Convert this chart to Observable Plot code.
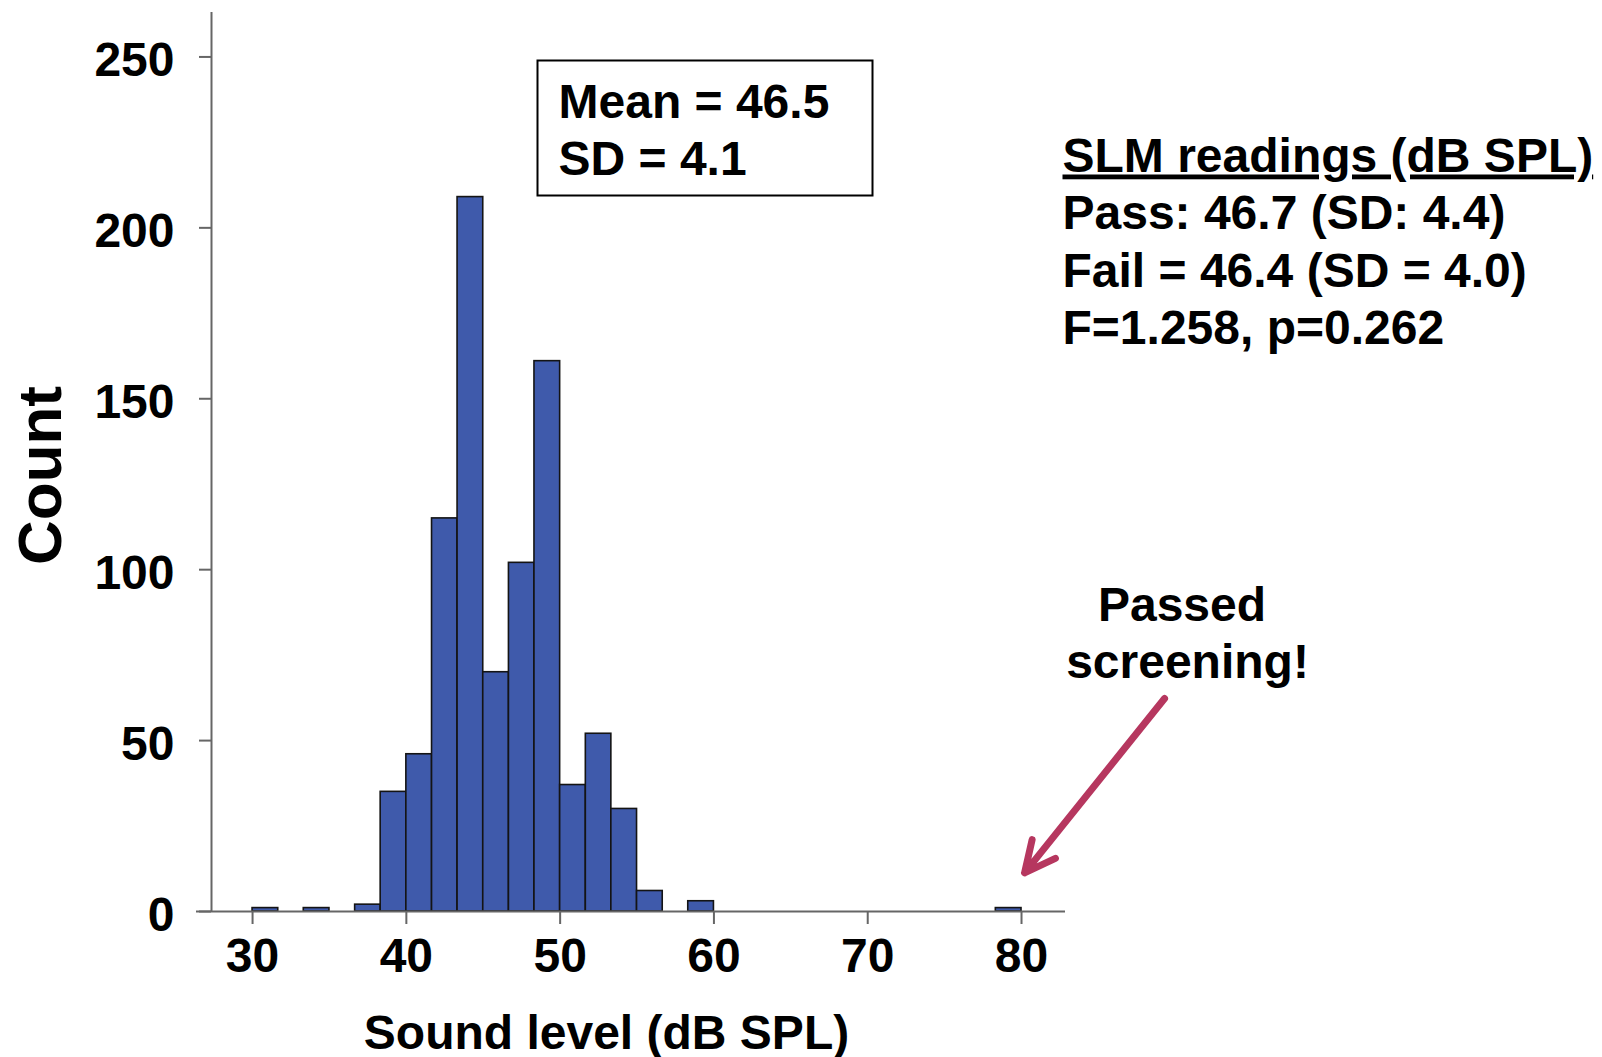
<!DOCTYPE html>
<html>
<head>
<meta charset="utf-8">
<script src="https://cdn.jsdelivr.net/npm/d3@7"></script>
<script src="https://cdn.jsdelivr.net/npm/@observablehq/plot@0.6"></script>
<style>
  html, body { margin: 0; padding: 0; background: #fff; overflow: hidden; }
  #chart svg { display: block; }
</style>
</head>
<body>
<div id="chart"></div>
<script>
// ---- data ----
const binStart = [30, 33.33, 36.67, 38.33, 40, 41.67, 43.33, 45, 46.67, 48.33, 50, 51.67, 53.33, 55, 58.33, 78.33];
const binEnd   = [31.67, 35, 38.33, 40, 41.67, 43.33, 45, 46.67, 48.33, 50, 51.67, 53.33, 55, 56.67, 60, 80];
const counts   = [1, 1, 2, 35, 46, 115, 209, 70, 102, 161, 37, 52, 30, 6, 3, 1];

const xTicks = [30, 40, 50, 60, 70, 80];
const yTicks = [0, 50, 100, 150, 200, 250];
const xDomain = [27.33, 82.86];
const yDomain = [0, 263];

const xLabel = "Sound level (dB SPL)";
const yLabel = "Count";
const statsBox = ["Mean = 46.5", "SD = 4.1"];
const slmTitle = "SLM readings (dB SPL)";
const slmLines = ["Pass: 46.7 (SD: 4.4)", "Fail = 46.4 (SD = 4.0)", "F=1.258, p=0.262"];
const calloutLines = ["Passed", "screening!"];
const arrowData = [{x1: 89.3, y1: 62.3, x2: 80.2, y2: 11.3}];

// ---- build ----
const bars = binStart.map((s, i) => ({lo: s, hi: binEnd[i], count: counts[i]}));

const FONT = "'Liberation Sans', Arial, Helvetica, sans-serif";
const FS = 48;
const AXIS = "#666";
const W = 1602, H = 1057;
const mL = 211, mR = 537, mT = 12, mB = 146;

const txt = (s, o) => Plot.text([s], {
  text: d => d, frameAnchor: "top-left", fontFamily: FONT, fontSize: FS,
  fontWeight: "bold", fill: "black", lineAnchor: "bottom", textAnchor: "start", ...o
});

const plot = Plot.plot({
  width: W, height: H,
  marginLeft: mL, marginRight: mR, marginTop: mT, marginBottom: mB,
  style: {fontFamily: FONT, background: "white", color: "black", overflow: "visible"},
  x: {domain: xDomain, label: null},
  y: {domain: yDomain, label: null},
  marks: [
    Plot.rectY(bars, {x1: "lo", x2: "hi", y: "count", fill: "#3f5aab", stroke: "#141414", strokeWidth: 1.6}),
    Plot.ruleY([0], {stroke: AXIS, strokeWidth: 2, insetLeft: -15}),
    Plot.ruleX([xDomain[0]], {stroke: AXIS, strokeWidth: 2}),
    Plot.axisY({ticks: yTicks, tickSize: 12, fill: "none", stroke: AXIS, strokeWidth: 2, label: null}),
    Plot.axisY({ticks: yTicks, tickSize: 0, tickPadding: 37, dy: 4, stroke: "none", fill: "black",
      fontSize: FS, fontWeight: "bold", fontFamily: FONT, label: null}),
    Plot.axisX({ticks: xTicks, tickSize: 13, tickPadding: 13.5, stroke: AXIS, strokeWidth: 2, fill: "black",
      fontSize: FS, fontWeight: "bold", fontFamily: FONT, label: null}),
    // axis titles
    txt(yLabel, {dx: 41 - mL, dy: 475 - mT, rotate: -90, textAnchor: "middle", lineAnchor: "middle", fontSize: 62}),
    txt(xLabel, {dx: 606 - mL, dy: 1048 - mT, textAnchor: "middle"}),
    // stats box
    Plot.frame({stroke: "black", strokeWidth: 2, fill: "white",
      insetLeft: 537 - mL, insetRight: (W - mR) - 872, insetTop: 60 - mT, insetBottom: (H - mB) - 195}),
    ...statsBox.map((s, i) => txt(s, {dx: 558 - mL, dy: 117.5 - mT + i * 56.5})),
    // SLM readings
    txt(slmTitle, {dx: 1062 - mL, dy: 171 - mT}),
    ...slmLines.map((s, i) => txt(s, {dx: 1062 - mL, dy: 228.5 - mT + i * 57.5})),
    // callout
    txt(calloutLines[0], {dx: 1181.5 - mL, dy: 620 - mT, textAnchor: "middle"}),
    txt(calloutLines[1], {dx: 1187 - mL, dy: 677 - mT, textAnchor: "middle"}),
    Plot.arrow(arrowData, {x1: "x1", y1: "y1", x2: "x2", y2: "y2", stroke: "#b6375f", strokeWidth: 7,
      headLength: 7.3, headAngle: 52, strokeLinecap: "round", strokeLinejoin: "round"})
  ]
});

d3.select(plot).selectAll("text")
  .filter(function() { return this.textContent === slmTitle; })
  .style("text-decoration", "underline")
  .style("text-decoration-skip-ink", "none");

document.getElementById("chart").appendChild(plot);
</script>
</body>
</html>
